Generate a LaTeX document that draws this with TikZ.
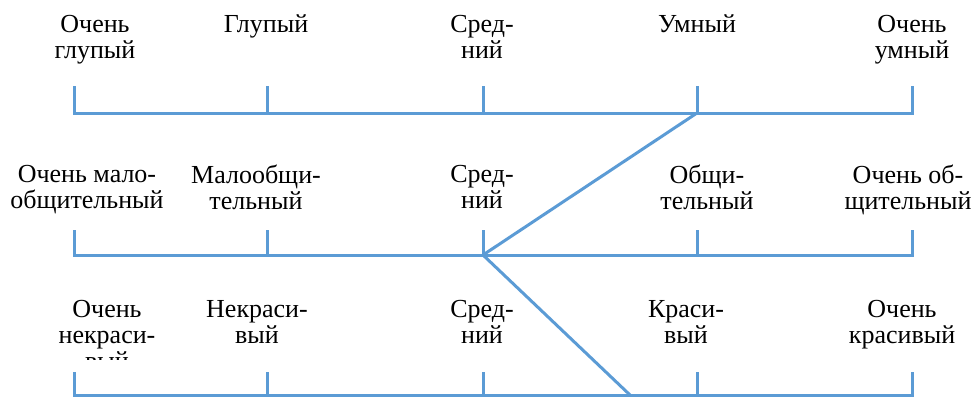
\documentclass[tikz,border=0pt]{standalone}
\usepackage{fontspec}
\setmainfont{Liberation Serif}
\newfontfamily\lblfont{Liberation Serif}
\usepackage{tikz}

\definecolor{scaleblue}{RGB}{91,155,213}
\tikzset{
  scl/.style={draw=scaleblue, line width=3pt},
  lbl/.style={anchor=north, inner sep=0pt, align=center,
    font=\lblfont\fontsize{26}{26}\selectfont}
}

\begin{document}
\begin{tikzpicture}[x=1pt,y=-1pt]
\useasboundingbox (0,0) rectangle (976,396);
% three scales
\foreach \r/\y/\t in {a/113/86, b/255/230, c/395/372} {
  \draw [scl] (74,\t) |- (912,\y) -- (912,\t);
  \foreach \x [count=\i] in {74,267,483,697,912}
    \draw [scl] (\x,\t) -- (\x,\y) coordinate (\r\i);
}
\coordinate (cx) at (630,395);
\draw [scl] (a4) -- (b3) -- (cx);

% intellect
\node [lbl] (vstupid) at (95,15) {Очень\\глупый};
\node [lbl] (stupid) at (266,15) {Глупый};
\node [lbl] (avga) at (482,15) {Сред-\\ний};
\node [lbl] (smart) at (697,15) {Умный};
\node [lbl] (vsmart) at (912,15) {Очень\\умный};

% sociability
\node [lbl] (vunsoc) at (87,165) {Очень мало-\\общительный};
\node [lbl] (unsoc) at (256,165) {Малообщи-\\тельный};
\node [lbl] (avgb) at (482,165) {Сред-\\ний};
\node [lbl] (soc) at (707,165) {Общи-\\тельный};
\node [lbl] (vsoc) at (908,165) {Очень об-\\щительный};

% looks
\begin{scope}
  \clip (0,280) rectangle (976,359);
  \node [lbl] (vugly) at (107,300) {Очень\\некраси-\\вый};
\end{scope}
\node [lbl] (ugly) at (257,300) {Некраси-\\вый};
\node [lbl] (avgc) at (482,300) {Сред-\\ний};
\node [lbl] (pretty) at (686,300) {Краси-\\вый};
\node [lbl] (vpretty) at (902,300) {Очень\\красивый};
\end{tikzpicture}
\end{document}
